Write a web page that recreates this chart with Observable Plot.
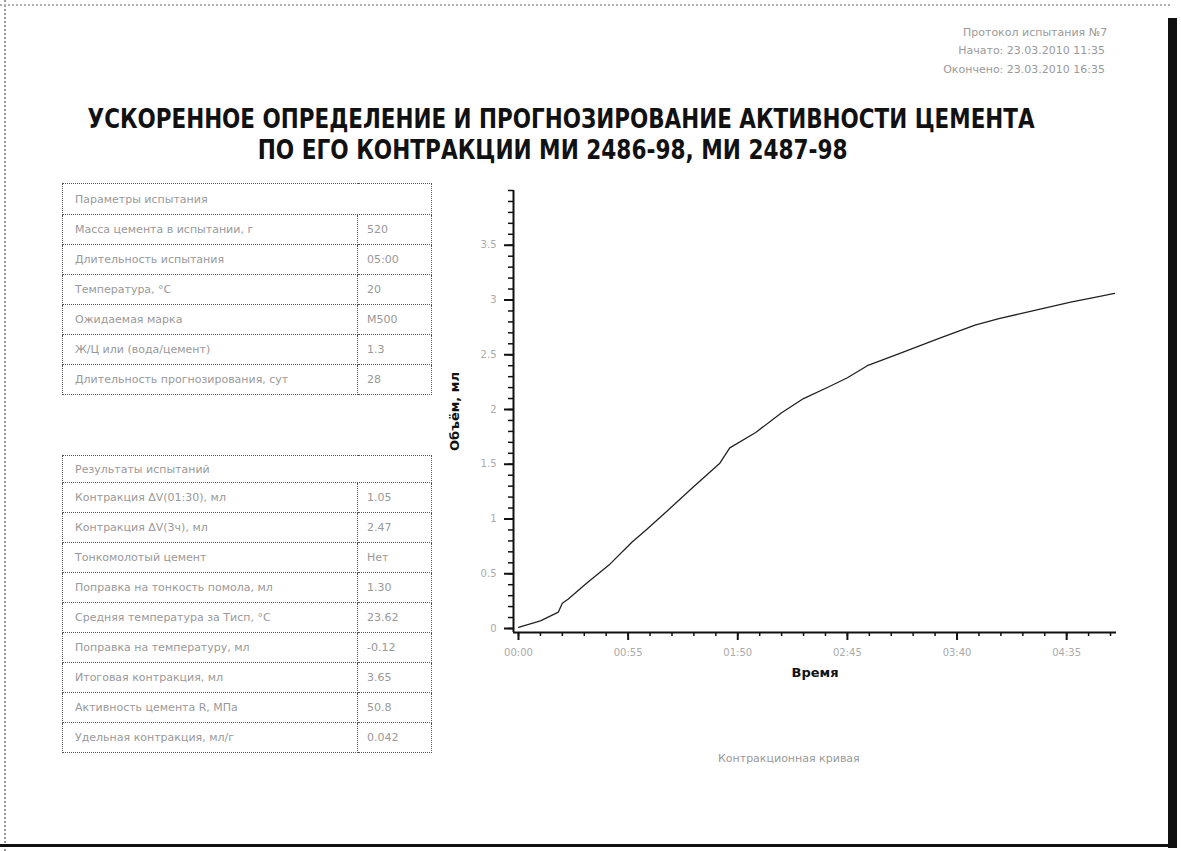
<!DOCTYPE html>
<html><head><meta charset="utf-8">
<script src="https://cdn.jsdelivr.net/npm/d3@7"></script>
<script src="https://cdn.jsdelivr.net/npm/@observablehq/plot@0.6"></script>
<style>
html,body{margin:0;padding:0;background:#fff;}
#page{position:relative;width:1181px;height:851px;overflow:hidden;background:#fff;font-family:"DejaVu Sans",sans-serif;}
.edgeL{position:absolute;left:4px;top:0;width:0;height:851px;border-left:2px dotted #9a9a9a;}
.edgeT{position:absolute;left:0;top:4px;width:1170px;height:0;border-top:2px dotted #b0b0b0;}
.edgeB{position:absolute;left:0;top:844px;width:1172px;height:3px;background:#111;}
.edgeR{position:absolute;left:1168px;top:18px;width:9px;height:830px;background:#111;}
.title{position:absolute;width:2120px;text-align:center;font-weight:bold;font-size:26px;color:#111;white-space:nowrap;}
.title span{display:inline-block;transform-origin:center;}
.hdr{position:absolute;font-size:11px;color:#9a9a9a;white-space:nowrap;}
table.t{position:absolute;border-collapse:collapse;font-size:11px;color:#999;}
table.t td{border:1px dotted #555;padding:0 0 0 12px;white-space:nowrap;}
table.t td.v{padding-left:9px;}
.cap{position:absolute;font-size:11px;color:#999;white-space:nowrap;}
#chart{position:absolute;left:430px;top:180px;}
</style></head>
<body><div id="page">
<div class="edgeL"></div><div class="edgeT"></div><div class="edgeB"></div><div class="edgeR"></div>
<div class="hdr" style="left:963px;top:26px;">Протокол испытания №7</div>
<div class="hdr" style="right:76px;top:44px;">Начато: 23.03.2010 11:35</div>
<div class="hdr" style="right:76px;top:63px;">Окончено: 23.03.2010 16:35</div>
<div class="title" style="left:-499px;top:104px;"><span id="t1">УСКОРЕННОЕ ОПРЕДЕЛЕНИЕ И ПРОГНОЗИРОВАНИЕ АКТИВНОСТИ ЦЕМЕНТА</span></div>
<div class="title" style="left:-507px;top:135px;"><span id="t2">ПО ЕГО КОНТРАКЦИИ МИ 2486-98, МИ 2487-98</span></div>
<table class="t" id="tab1" style="left:62px;top:183px;width:370px;"></table>
<table class="t" id="tab2" style="left:62px;top:455px;width:370px;"></table>
<div id="chart"></div>
<div class="cap" style="left:718px;top:752px;">Контракционная кривая</div>
</div>
<script>
// ---- data ----
const params1Title = "Параметры испытания";
const params1Labels = ["Масса цемента в испытании, г","Длительность испытания","Температура, °С","Ожидаемая марка","Ж/Ц или (вода/цемент)","Длительность прогнозирования, сут"];
const params1Values = ["520","05:00","20","М500","1.3","28"];
const params2Title = "Результаты испытаний";
const params2Labels = ["Контракция ΔV(01:30), мл","Контракция ΔV(3ч), мл","Тонкомолотый цемент","Поправка на тонкость помола, мл","Средняя температура за Тисп, °С","Поправка на температуру, мл","Итоговая контракция, мл","Активность цемента R, МПа","Удельная контракция, мл/г"];
const params2Values = ["1.05","2.47","Нет","1.30","23.62","-0.12","3.65","50.8","0.042"];

const timeMin = [0, 11, 20, 22, 25, 34, 46, 57, 64, 75, 87, 101, 106, 119, 132, 143, 156, 165, 175, 191, 211, 229, 241, 253, 265, 277, 291, 299];
const volumeMl = [0.01, 0.07, 0.15, 0.23, 0.27, 0.41, 0.59, 0.79, 0.90, 1.08, 1.28, 1.51, 1.65, 1.79, 1.97, 2.10, 2.21, 2.29, 2.40, 2.51, 2.65, 2.77, 2.83, 2.88, 2.93, 2.98, 3.03, 3.06];

const xMajorTicks = [0, 55, 110, 165, 220, 275];
const xTickLabels = ["00:00","00:55","01:50","02:45","03:40","04:35"];
const yMajorTicks = [0, 0.5, 1, 1.5, 2, 2.5, 3, 3.5];
const yTickLabels = ["0","0.5","1","1.5","2","2.5","3","3.5"];

// ---- tables ----
function fillTable(id, title, labels, values, rowH, headH) {
  const t = document.getElementById(id);
  let html = `<tr style="height:${headH}px"><td colspan="2">${title}</td></tr>`;
  labels.forEach((l, i) => {
    html += `<tr style="height:${rowH}px"><td style="width:282px">${l}</td><td class="v">${values[i]}</td></tr>`;
  });
  t.innerHTML = html;
}
fillTable("tab1", params1Title, params1Labels, params1Values, 30, 31);
fillTable("tab2", params2Title, params2Labels, params2Values, 30, 27);

// ---- title fitting ----
function fit(id, w) {
  const el = document.getElementById(id);
  const cw = el.getBoundingClientRect().width;
  el.style.transform = `scaleX(${w / cw})`;
}
fit("t1", 947); fit("t2", 590);

// ---- chart ----
const data = timeMin.map((t, i) => ({t, v: volumeMl[i]}));
const xMinor = d3.range(0, 301, 11);
const yMinor = d3.range(0, 4.001, 0.1);
const W = 710, H = 520;
const chart = Plot.plot({
  width: W, height: H,
  marginLeft: 83, marginRight: 24, marginTop: 10, marginBottom: 68,
  insetLeft: 5, insetBottom: 4, insetTop: 0, insetRight: 0,
  style: {fontFamily: "DejaVu Sans, sans-serif", fontSize: "10px", color: "#111", background: "transparent"},
  x: {domain: [0, 300]},
  y: {domain: [0, 4]},
  marks: [
    Plot.axisX(xMinor, {tickSize: 4, tickFormat: () => "", stroke: "#111", strokeWidth: 1.5, label: null}),
    Plot.axisX(xMajorTicks, {tickSize: 8, tickPadding: 8, stroke: "#111", strokeWidth: 2,
      tickFormat: (d) => xTickLabels[xMajorTicks.indexOf(d)], fill: "#aaa", label: "Время", labelArrow: "none", labelAnchor: "center", labelOffset: 44}),
    Plot.axisY(yMinor, {tickSize: 5, tickFormat: () => "", stroke: "#111", strokeWidth: 1.5, label: null}),
    Plot.axisY(yMajorTicks, {tickSize: 9, tickPadding: 8, stroke: "#111", strokeWidth: 2,
      tickFormat: (d) => yTickLabels[yMajorTicks.indexOf(d)], fill: "#aaa", label: "Объём, мл", labelArrow: "none", labelAnchor: "center", labelOffset: 64}),
    Plot.ruleX([0], {dx: -5, stroke: "#111", strokeWidth: 2}),
    Plot.ruleY([0], {dy: 4, stroke: "#111", strokeWidth: 2}),
    Plot.lineY(data, {x: "t", y: "v", stroke: "#222", strokeWidth: 1.3})
  ]
});
document.getElementById("chart").appendChild(chart);
chart.querySelectorAll('[aria-label="x-axis label"] text, [aria-label="y-axis label"] text').forEach(t => {
  t.textContent = t.textContent.replace(/[→↑←↓]/g, "").trim();
  t.setAttribute("font-weight", "bold");
  t.setAttribute("font-size", "13px");
  t.setAttribute("fill", "#111");
});
</script>
</body></html>
